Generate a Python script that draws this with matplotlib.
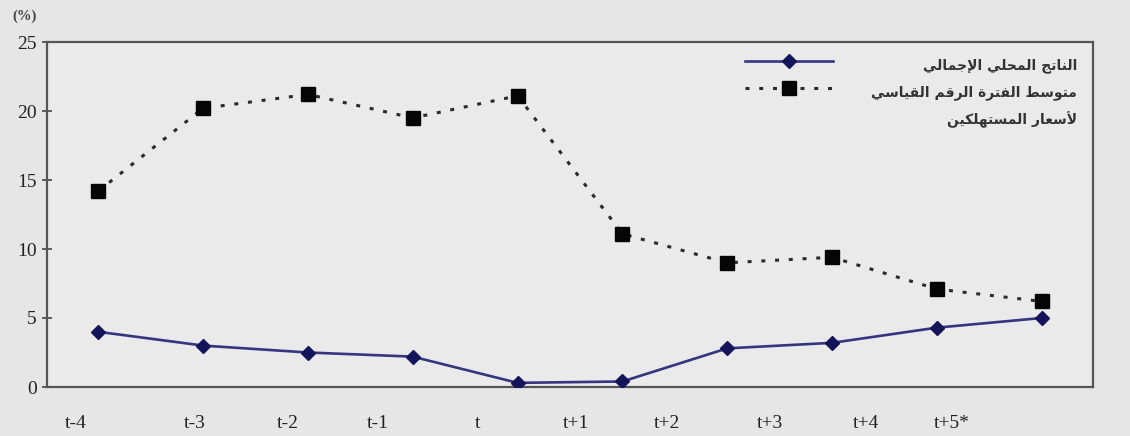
import matplotlib
matplotlib.use("Agg")
import matplotlib.pyplot as plt

# ---------------- data ----------------
periods = ["t-4", "t-3", "t-2", "t-1", "t", "t+1", "t+2", "t+3", "t+4", "t+5*"]
gdp = [4.0, 3.0, 2.5, 2.2, 0.3, 0.4, 2.8, 3.2, 4.3, 5.0]
cpi = [14.2, 20.2, 21.2, 19.5, 21.1, 11.1, 9.0, 9.4, 7.1, 6.2]
label_gdp = "الناتج المحلي الإجمالي"
label_cpi_1 = "متوسط الفترة الرقم القياسي"
label_cpi_2 = "لأسعار المستهلكين"
yticks = [0, 5, 10, 15, 20, 25]
# label positions (as drawn in the original, offset from the points)
tick_pos = [-0.22, 0.92, 1.81, 2.67, 3.62, 4.56, 5.43, 6.41, 7.32, 8.14]

# ---------------- minimal Arabic shaping ----------------
FORMS = {
    'ا': ('\uFE8D', '\uFE8E', None, None),
    'أ': ('\uFE83', '\uFE84', None, None),
    'إ': ('\uFE87', '\uFE88', None, None),
    'ة': ('\uFE93', '\uFE94', None, None),
    'ت': ('\uFE95', '\uFE96', '\uFE97', '\uFE98'),
    'ج': ('\uFE9D', '\uFE9E', '\uFE9F', '\uFEA0'),
    'ح': ('\uFEA1', '\uFEA2', '\uFEA3', '\uFEA4'),
    'ر': ('\uFEAD', '\uFEAE', None, None),
    'س': ('\uFEB1', '\uFEB2', '\uFEB3', '\uFEB4'),
    'ط': ('\uFEC1', '\uFEC2', '\uFEC3', '\uFEC4'),
    'ع': ('\uFEC9', '\uFECA', '\uFECB', '\uFECC'),
    'ف': ('\uFED1', '\uFED2', '\uFED3', '\uFED4'),
    'ق': ('\uFED5', '\uFED6', '\uFED7', '\uFED8'),
    'ك': ('\uFED9', '\uFEDA', '\uFEDB', '\uFEDC'),
    'ل': ('\uFEDD', '\uFEDE', '\uFEDF', '\uFEE0'),
    'م': ('\uFEE1', '\uFEE2', '\uFEE3', '\uFEE4'),
    'ن': ('\uFEE5', '\uFEE6', '\uFEE7', '\uFEE8'),
    'ه': ('\uFEE9', '\uFEEA', '\uFEEB', '\uFEEC'),
    'و': ('\uFEED', '\uFEEE', None, None),
    'ي': ('\uFEF1', '\uFEF2', '\uFEF3', '\uFEF4'),
}
LAMALEF = {'ا': ('\uFEFB', '\uFEFC'), 'أ': ('\uFEF7', '\uFEF8'),
           'إ': ('\uFEF9', '\uFEFA')}


def shape(s):
    chars = []
    i = 0
    while i < len(s):
        c = s[i]
        if c == 'ل' and i + 1 < len(s) and s[i + 1] in LAMALEF:
            chars.append(('LA', s[i + 1]))
            i += 2
        else:
            chars.append(c)
            i += 1

    def dual(c):
        return (not isinstance(c, tuple)) and c in FORMS and FORMS[c][2] is not None

    def joinable(c):
        return isinstance(c, tuple) or c in FORMS

    out = []
    for k, c in enumerate(chars):
        prev = chars[k - 1] if k > 0 else None
        nxt = chars[k + 1] if k + 1 < len(chars) else None
        jp = prev is not None and dual(prev)
        if isinstance(c, tuple):
            iso, fin = LAMALEF[c[1]]
            out.append(fin if jp else iso)
            continue
        if c not in FORMS:
            out.append(c)
            continue
        f = FORMS[c]
        jn = f[2] is not None and nxt is not None and joinable(nxt)
        if jp and jn:
            out.append(f[3])
        elif jp:
            out.append(f[1])
        elif jn:
            out.append(f[2])
        else:
            out.append(f[0])
    return ''.join(reversed(out))


# ---------------- figure ----------------
fig = plt.figure(figsize=(11.30, 4.36), dpi=100, facecolor="#e6e6e6")
ax = fig.add_axes([47 / 1130, 1 - 387 / 436, (1093 - 47) / 1130, (387 - 42) / 436])
ax.set_facecolor("#eaeaea")

x = list(range(len(periods)))
l_gdp, = ax.plot(x, gdp, color="#35357f", lw=1.9, marker="D", ms=7.5,
                 mfc="#14145a", mec="#14145a", zorder=3)
l_cpi, = ax.plot(x, cpi, color="#2a2a2a", lw=2.2, linestyle=(0, (1.3, 3.2)),
                 marker="s", ms=10.5, mfc="#050505", mec="#050505", zorder=3)

ax.set_xlim(-0.49, 9.49)
ax.set_ylim(0, 25)
ax.set_yticks(yticks)
ax.set_yticklabels([str(v) for v in yticks], fontfamily="Liberation Serif",
                   fontsize=14, color="#222222")
ax.set_xticks(tick_pos)
ax.set_xticklabels(periods, fontfamily="Liberation Serif", fontsize=14,
                   color="#222222")
ax.tick_params(axis="x", length=0, pad=20)
ax.tick_params(axis="y", direction="inout", length=7, width=1.2,
               color="#444444", pad=4)

for sp in ax.spines.values():
    sp.set_color("#555555")
    sp.set_linewidth(1.6)

fig.text(25 / 1130, 1 - 16 / 436, "(%)", fontfamily="Liberation Serif",
         fontsize=10.5, fontweight="bold", ha="center", va="center",
         color="#444444")

# legend (handles) + right-aligned Arabic labels
leg = ax.legend([l_gdp, l_cpi], ["", ""], loc="upper left",
                bbox_to_anchor=((745 - 47) / 1046, 1 - (55 - 42) / 345),
                frameon=False, fontsize=10, handlelength=6.3,
                handletextpad=0, borderpad=0, borderaxespad=0,
                labelspacing=0.9)

ar_font = dict(fontfamily="DejaVu Sans", fontsize=10, fontweight="bold",
               color="#333333", ha="right", va="center")
for yy, txt in [(66, label_gdp), (93, label_cpi_1), (120, label_cpi_2)]:
    ax.text((1077 - 47) / 1046, 1 - (yy - 42) / 345, shape(txt),
            transform=ax.transAxes, **ar_font)

fig.savefig("out.png", dpi=100, facecolor=fig.get_facecolor())
